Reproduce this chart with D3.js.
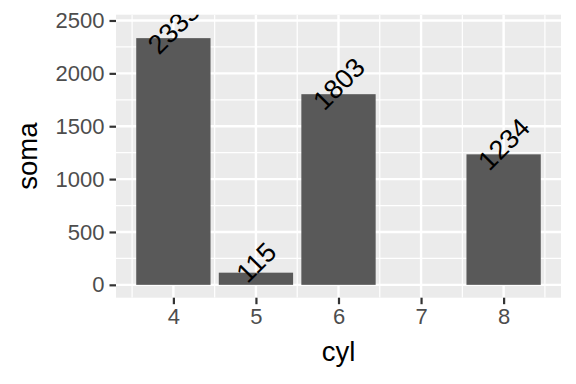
<!DOCTYPE html>
<html>
<head>
<meta charset="utf-8">
<script src="https://cdn.jsdelivr.net/npm/d3@7"></script>
<style>
  body { margin: 0; background: #fff; }
  svg { display: block; font-family: 'Liberation Sans', Arial, sans-serif; }
</style>
</head>
<body>
<div class="graphic"></div>
<script>
// mpg: sum of hwy per cyl
const cyl = [4, 5, 6, 8];
const soma = [2333, 115, 1803, 1234];
const xTicks = [4, 5, 6, 7, 8];
const yTicks = [0, 500, 1000, 1500, 2000, 2500];
const labelNudge = 100;

const width = 576, height = 384;
const panel = {left: 116, right: 561, top: 14.7, bottom: 297.7};

const data = cyl.map((c, i) => ({cyl: c, soma: soma[i]}));

// ggplot-like expansion: 5% each side
const barW = 0.9;
const xMin = d3.min(cyl) - barW / 2, xMax = d3.max(cyl) + barW / 2;
const xPad = (xMax - xMin) * 0.05;
const x = d3.scaleLinear()
  .domain([xMin - xPad, xMax + xPad])
  .range([panel.left, panel.right]);

const yTop = d3.max(soma) + labelNudge;
const yPad = yTop * 0.05;
const y = d3.scaleLinear()
  .domain([-yPad, yTop + yPad])
  .range([panel.bottom, panel.top]);

const svg = d3.select('.graphic')
  .append('svg')
  .attr('width', width)
  .attr('height', height);

svg.append('defs').append('clipPath')
  .attr('id', 'panel-clip')
  .append('rect')
  .attr('x', panel.left)
  .attr('y', panel.top)
  .attr('width', panel.right - panel.left)
  .attr('height', panel.bottom - panel.top);

svg.append('rect')
  .attr('x', panel.left)
  .attr('y', panel.top)
  .attr('width', panel.right - panel.left)
  .attr('height', panel.bottom - panel.top)
  .style('fill', '#EBEBEB');

const grid = svg.append('g').attr('clip-path', 'url(#panel-clip)');

const xMinor = d3.range(3.5, 9, 1).filter(v => v > x.domain()[0] && v < x.domain()[1]);
const yMinor = d3.range(250, 2600, 500).filter(v => v > y.domain()[0] && v < y.domain()[1]);

grid.selectAll('.xminor')
  .data(xMinor)
  .enter().append('line')
  .attr('x1', d => x(d)).attr('x2', d => x(d))
  .attr('y1', panel.top).attr('y2', panel.bottom)
  .style('stroke', '#fff').style('stroke-width', 1.2);

grid.selectAll('.yminor')
  .data(yMinor)
  .enter().append('line')
  .attr('y1', d => y(d)).attr('y2', d => y(d))
  .attr('x1', panel.left).attr('x2', panel.right)
  .style('stroke', '#fff').style('stroke-width', 1.2);

grid.selectAll('.xmajor')
  .data(xTicks)
  .enter().append('line')
  .attr('x1', d => x(d)).attr('x2', d => x(d))
  .attr('y1', panel.top).attr('y2', panel.bottom)
  .style('stroke', '#fff').style('stroke-width', 2.4);

grid.selectAll('.ymajor')
  .data(yTicks)
  .enter().append('line')
  .attr('y1', d => y(d)).attr('y2', d => y(d))
  .attr('x1', panel.left).attr('x2', panel.right)
  .style('stroke', '#fff').style('stroke-width', 2.4);

const plot = svg.append('g').attr('clip-path', 'url(#panel-clip)');

plot.selectAll('rect.bar')
  .data(data)
  .enter().append('rect')
  .attr('class', 'bar')
  .attr('x', d => x(d.cyl - barW / 2))
  .attr('width', d => x(d.cyl + barW / 2) - x(d.cyl - barW / 2))
  .attr('y', d => y(d.soma))
  .attr('height', d => y(0) - y(d.soma))
  .style('fill', '#595959');

plot.selectAll('text.lab')
  .data(data)
  .enter().append('text')
  .attr('class', 'lab')
  .attr('transform', d => 'translate(' + x(d.cyl) + ',' + y(d.soma + labelNudge) + ') rotate(-45)')
  .attr('text-anchor', 'middle')
  .attr('dy', '0.36em')
  .style('font-size', '27px')
  .style('fill', '#000')
  .text(d => d.soma);

// axes
const xAxis = svg.append('g')
  .attr('transform', 'translate(0,' + panel.bottom + ')')
  .call(d3.axisBottom(x).tickValues(xTicks).tickSize(6.5).tickPadding(4).tickFormat(d3.format('d')));

const yAxis = svg.append('g')
  .attr('transform', 'translate(' + panel.left + ',0)')
  .call(d3.axisLeft(y).tickValues(yTicks).tickSize(6.5).tickPadding(5).tickFormat(d3.format('d')));

[xAxis, yAxis].forEach(ax => {
  ax.select('.domain').remove();
  ax.selectAll('.tick line').style('stroke', '#333333').style('stroke-width', 2.2);
  ax.selectAll('.tick text')
    .style('fill', '#4D4D4D')
    .style('font-size', '22px')
    .style('font-family', "'Liberation Sans', Arial, sans-serif");
});

svg.append('text')
  .attr('x', (panel.left + panel.right) / 2)
  .attr('y', 361)
  .attr('text-anchor', 'middle')
  .style('font-size', '27.5px')
  .style('fill', '#000')
  .text('cyl');

svg.append('text')
  .attr('transform', 'translate(37,' + (panel.top + panel.bottom) / 2 + ') rotate(-90)')
  .attr('text-anchor', 'middle')
  .style('font-size', '27.5px')
  .style('fill', '#000')
  .text('soma');
</script>
</body>
</html>
